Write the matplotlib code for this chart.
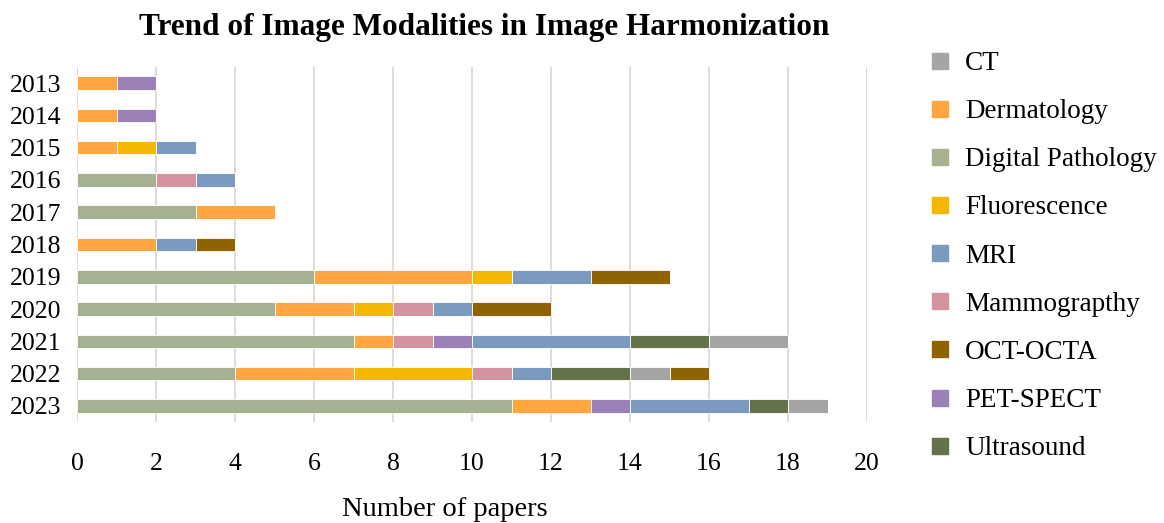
import matplotlib
matplotlib.use("Agg")
import matplotlib.pyplot as plt
from matplotlib.lines import Line2D
import numpy as np

years = ["2013", "2014", "2015", "2016", "2017", "2018", "2019", "2020", "2021", "2022", "2023"]

# stacking order as drawn
digital_pathology = [0, 0, 0, 2, 3, 0, 6, 5, 7, 4, 11]
dermatology       = [1, 1, 1, 0, 2, 2, 4, 2, 1, 3, 2]
fluorescence      = [0, 0, 1, 0, 0, 0, 1, 1, 0, 3, 0]
mammography       = [0, 0, 0, 1, 0, 0, 0, 1, 1, 1, 0]
pet_spect         = [1, 1, 0, 0, 0, 0, 0, 0, 1, 0, 1]
mri               = [0, 0, 1, 1, 0, 1, 2, 1, 4, 1, 3]
ultrasound        = [0, 0, 0, 0, 0, 0, 0, 0, 2, 2, 1]
ct                = [0, 0, 0, 0, 0, 0, 0, 0, 2, 1, 1]
oct_octa          = [0, 0, 0, 0, 0, 1, 2, 2, 0, 1, 0]

series = {
    "Digital Pathology": digital_pathology,
    "Dermatology": dermatology,
    "Fluorescence": fluorescence,
    "Mammography": mammography,
    "PET-SPECT": pet_spect,
    "MRI": mri,
    "Ultrasound": ultrasound,
    "CT": ct,
    "OCT-OCTA": oct_octa,
}
legend_order = ["CT", "Dermatology", "Digital Pathology", "Fluorescence", "MRI",
                "Mammography", "OCT-OCTA", "PET-SPECT", "Ultrasound"]
legend_labels = {"Mammography": "Mammograpthy"}
colors = {
    "CT": "#A5A5A5",
    "Dermatology": "#FFA640",
    "Digital Pathology": "#A5B190",
    "Fluorescence": "#F5B700",
    "MRI": "#7A9AC0",
    "Mammography": "#D593A0",
    "OCT-OCTA": "#8F6300",
    "PET-SPECT": "#9A82B8",
    "Ultrasound": "#647249",
}

plt.rcParams["font.family"] = ["Liberation Serif", "DejaVu Serif"]

fig = plt.figure(figsize=(11.64, 5.23), dpi=100)
ax = fig.add_axes([77/1164, 1-422/523, 790/1164, 355/523])

y = np.arange(len(years))
left = np.zeros(len(years))
for name, vals in series.items():
    vals = np.array(vals, dtype=float)
    ax.barh(y, vals, left=left, height=0.42, color=colors[name],
            edgecolor="white", linewidth=0.6, zorder=3)
    left += vals

ax.set_xlim(0, 20)
ax.set_ylim(len(years) - 0.5, -0.5)
ax.set_yticks(y)
ax.set_yticklabels(years, fontsize=18.5)
ax.set_xticks(np.arange(0, 21, 2))
ax.tick_params(axis="x", labelsize=18.5, length=0, pad=22)
ax.tick_params(axis="y", length=0, pad=11)
ax.grid(axis="x", color="#D9D9D9", linewidth=1.3, zorder=0)
for s in ax.spines.values():
    s.set_visible(False)

fig.text(445/1164, 1-510/523, "Number of papers", fontsize=20.5, ha="center", va="center")
fig.text(484/1164, 1-27/523, "Trend of Image Modalities in Image Harmonization",
         fontsize=22.5, fontweight="bold", ha="center", va="center")

handles = [Line2D([], [], linestyle="none", marker="s", markersize=12.2,
                  markerfacecolor=colors[n], markeredgecolor=colors[n]) for n in legend_order]
labels = [legend_labels.get(n, n) for n in legend_order]
fig.legend(handles, labels, loc="upper left", bbox_to_anchor=(926/1164, 1-51/523),
           frameon=False, fontsize=19.5, labelspacing=0.855, handlelength=1.0,
           handletextpad=0.44, borderaxespad=0, borderpad=0)

fig.savefig("out.png", dpi=100)
